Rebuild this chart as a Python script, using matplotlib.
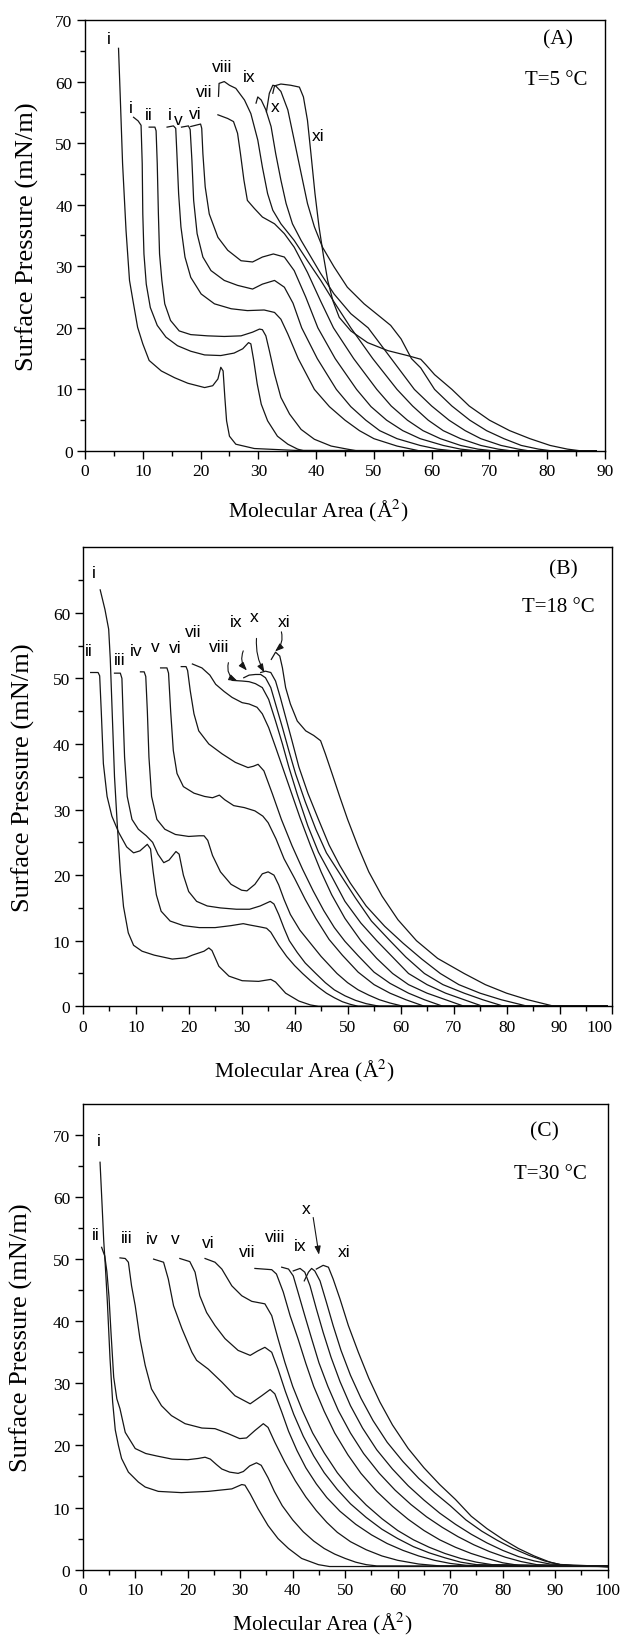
import numpy as np
import matplotlib.pyplot as plt

plt.rcParams['font.family'] = ['Liberation Serif', 'DejaVu Serif']
plt.rcParams['mathtext.fontset'] = 'stix'

# -----------------------------
# Panel A, T = 5 C  (area in A^2, surface pressure in mN/m)
# -----------------------------
a_i = [(5.8, 65.4), (6.1, 57.5), (6.5, 46.7), (7.1, 35.8), (7.7, 27.7), (8.3, 24.4), (9.1, 20.1),
       (10.0, 17.4), (11.1, 14.7), (13.2, 13.0), (15.5, 11.9), (17.8, 11.0), (20.7, 10.3), (22.1, 10.6),
       (23.0, 11.7), (23.5, 13.6), (23.9, 13.0), (24.2, 8.7), (24.5, 4.9), (25.0, 2.4), (26.1, 1.1),
       (29.3, 0.4), (36.2, 0.1), (88.5, 0.0)]
a_ii = [(8.4, 54.2), (9.2, 53.6), (9.7, 52.9), (9.9, 46.7), (10.0, 38.5), (10.2, 32.0), (10.6, 27.1),
        (11.3, 23.3), (12.5, 20.4), (14.0, 18.5), (16.0, 17.1), (18.3, 16.2), (20.7, 15.6), (23.5, 15.5),
        (25.8, 15.9), (27.3, 16.6), (28.3, 17.6), (28.7, 17.4), (29.2, 14.7), (29.8, 10.9), (30.5, 7.6),
        (31.6, 4.9), (33.3, 2.4), (35.1, 1.1), (36.8, 0.3), (38.0, 0.0), (88.5, 0.0)]
a_iii = [(11.1, 52.6), (12.1, 52.6), (12.3, 52.0), (12.5, 46.7), (12.7, 38.5), (12.9, 32.0), (13.3, 27.7),
         (13.8, 23.9), (14.8, 21.2), (16.3, 19.5), (18.3, 18.9), (21.2, 18.7), (24.1, 18.6), (27.0, 18.7),
         (29.0, 19.3), (30.2, 19.8), (30.7, 19.7), (31.3, 18.7), (31.9, 16.3), (32.8, 12.5), (33.9, 8.7),
         (35.4, 6.0), (37.4, 3.5), (39.7, 1.9), (42.6, 0.8), (45.4, 0.3), (47.2, 0.0), (88.5, 0.0)]
a_iv = [(14.2, 52.6), (15.3, 52.8), (15.7, 52.4), (15.9, 48.3), (16.2, 41.8), (16.6, 36.4), (17.3, 31.5),
        (18.3, 28.2), (20.1, 25.5), (22.4, 23.9), (25.3, 23.1), (28.1, 22.8), (31.0, 22.9), (32.8, 22.5),
        (33.9, 21.4), (35.1, 19.0), (36.9, 15.0), (39.7, 10.0), (42.3, 7.2), (45.0, 5.0), (47.5, 3.3),
        (50.0, 2.0), (54.0, 0.8), (58.0, 0.0), (88.5, 0.0)]
a_v = [(16.7, 52.6), (17.9, 52.8), (18.2, 52.2), (18.5, 47.2), (18.8, 40.7), (19.4, 35.3), (20.4, 31.5),
       (21.8, 29.3), (24.1, 27.7), (26.4, 26.9), (29.0, 26.3), (30.7, 27.1), (32.8, 27.7), (34.5, 26.6),
       (36.0, 24.0), (37.5, 20.0), (40.2, 15.0), (43.5, 10.0), (46.0, 7.2), (48.6, 5.0), (51.0, 3.3),
       (54.0, 2.0), (58.0, 0.9), (61.0, 0.3), (64.0, 0.0), (88.5, 0.0)]
a_vi = [(18.3, 52.7), (20.0, 53.1), (20.2, 52.4), (20.4, 48.3), (20.8, 42.9), (21.5, 38.5), (23.0, 34.7),
        (24.7, 32.6), (27.0, 30.9), (29.0, 30.7), (30.7, 31.5), (32.6, 32.0), (34.5, 31.5), (36.2, 29.3),
        (38.2, 25.0), (40.3, 20.0), (43.3, 15.0), (47.0, 10.0), (49.5, 7.2), (52.2, 5.0), (55.0, 3.3),
        (58.0, 2.0), (62.0, 0.9), (65.0, 0.3), (68.0, 0.0), (88.5, 0.0)]
a_vii = [(23.0, 54.6), (24.7, 54.0), (25.7, 53.5), (26.4, 51.6), (26.9, 48.3), (27.5, 44.0), (28.1, 40.7),
         (29.3, 39.4), (30.7, 38.0), (32.8, 36.9), (34.5, 35.3), (36.2, 33.1), (38.5, 29.0), (40.8, 24.3),
         (43.0, 20.0), (46.5, 15.0), (50.5, 10.0), (53.0, 7.3), (55.8, 5.0), (58.5, 3.3), (61.5, 2.0),
         (65.0, 0.9), (68.0, 0.3), (71.0, 0.0), (88.5, 0.0)]
a_viii = [(23.1, 57.6), (23.2, 59.7), (24.1, 60.0), (25.0, 59.4), (26.1, 58.9), (27.6, 57.0), (28.7, 54.8),
          (29.9, 50.5), (30.7, 46.1), (31.6, 41.8), (32.5, 39.1), (33.9, 36.9), (36.2, 34.2), (38.5, 30.9),
          (40.8, 27.7), (43.1, 24.2), (46.0, 20.0), (49.8, 15.0), (54.0, 10.0), (56.7, 7.3), (59.4, 5.0),
          (62.0, 3.3), (65.0, 2.0), (68.5, 0.9), (71.5, 0.3), (74.0, 0.0), (88.5, 0.0)]
a_ix = [(29.6, 56.5), (29.9, 57.5), (30.5, 57.0), (31.3, 55.4), (32.2, 52.7), (33.0, 48.3), (33.9, 44.0),
        (34.8, 40.2), (35.9, 36.9), (37.4, 34.2), (39.1, 31.5), (40.8, 28.8), (43.1, 25.5), (46.0, 22.3),
        (49.0, 20.0), (53.0, 15.0), (57.0, 10.0), (60.0, 7.3), (63.0, 5.0), (65.8, 3.3), (68.5, 2.0),
        (72.0, 0.9), (75.0, 0.3), (77.0, 0.0), (88.5, 0.0)]
a_x = [(31.4, 55.1), (31.9, 58.1), (32.5, 59.4), (33.0, 59.3), (33.9, 58.4), (35.1, 55.4), (36.2, 50.5),
       (37.4, 45.1), (38.5, 40.2), (39.7, 36.4), (41.1, 33.1), (43.1, 29.9), (45.4, 26.6), (48.3, 23.9),
       (51.2, 21.7), (52.9, 20.4), (54.7, 18.2), (56.5, 15.0), (58.1, 13.5), (60.5, 10.0), (63.5, 7.3),
       (66.6, 5.0), (69.5, 3.3), (72.5, 2.0), (75.5, 0.9), (78.5, 0.3), (81.0, 0.0), (88.5, 0.0)]
a_xi = [(32.5, 58.1), (32.8, 59.3), (33.9, 59.6), (35.6, 59.4), (37.1, 59.1), (37.8, 57.5), (38.5, 53.7),
        (39.1, 48.3), (39.8, 41.8), (40.5, 36.4), (41.3, 31.5), (42.0, 27.7), (42.9, 24.4), (44.0, 21.7),
        (46.0, 19.5), (48.9, 17.6), (52.4, 16.3), (55.8, 15.5), (58.1, 14.9), (59.0, 14.0), (60.5, 12.4),
        (63.5, 10.0), (66.5, 7.3), (70.0, 5.0), (73.5, 3.3), (77.0, 2.0), (80.5, 0.9), (83.5, 0.3),
        (86.0, 0.0), (88.5, 0.0)]

# -----------------------------
# Panel B, T = 18 C
# -----------------------------
b_i = [(3.3, 63.5), (4.2, 60.5), (4.9, 57.5), (5.2, 53.0), (5.6, 44.0), (6.0, 35.0), (6.5, 28.0),
       (7.1, 20.5), (7.7, 15.2), (8.6, 11.2), (9.6, 9.3), (11.2, 8.4), (13.5, 7.8), (16.9, 7.2),
       (19.5, 7.4), (20.7, 7.8), (22.9, 8.4), (23.8, 8.9), (24.4, 8.5), (25.7, 6.1), (27.6, 4.6),
       (30.1, 3.9), (33.2, 3.8), (35.5, 4.1), (36.4, 3.7), (38.3, 2.0), (40.8, 0.8), (43.0, 0.2),
       (44.5, 0.0), (99.0, 0.0)]
b_ii = [(1.5, 50.9), (2.9, 50.9), (3.2, 50.4), (3.5, 45.0), (3.9, 37.0), (4.6, 32.0), (5.5, 29.0),
        (6.8, 26.5), (8.3, 24.3), (9.6, 23.4), (10.8, 23.7), (12.2, 24.7), (12.8, 24.0), (13.3, 20.5),
        (13.9, 17.0), (14.8, 14.5), (16.5, 13.0), (19.0, 12.3), (22.0, 12.0), (25.0, 12.0), (28.0, 12.3),
        (30.3, 12.6), (31.5, 12.4), (33.5, 12.1), (34.7, 11.9), (35.5, 11.3), (37.0, 9.3), (38.5, 7.6),
        (40.0, 6.2), (41.5, 5.0), (43.0, 3.9), (44.5, 2.9), (46.0, 2.0), (47.5, 1.3), (49.0, 0.7),
        (50.5, 0.3), (52.0, 0.0), (99.0, 0.0)]
b_iii = [(6.0, 50.8), (7.1, 50.8), (7.4, 50.0), (7.6, 45.0), (7.9, 38.0), (8.4, 32.0), (9.3, 28.5),
         (10.5, 27.0), (12.0, 26.0), (13.2, 25.0), (14.2, 23.2), (15.3, 21.9), (16.3, 22.3), (17.6, 23.6),
         (18.2, 23.2), (19.0, 20.0), (20.0, 17.5), (21.5, 16.0), (23.5, 15.3), (26.0, 15.0), (29.0, 14.8),
         (31.5, 14.8), (33.5, 15.3), (35.4, 16.0), (36.1, 15.6), (37.0, 14.0), (38.0, 11.9), (39.0, 10.0),
         (40.5, 8.2), (42.0, 6.6), (44.0, 5.0), (45.8, 3.6), (47.5, 2.5), (49.5, 1.6), (51.5, 0.9),
         (53.5, 0.4), (56.0, 0.0), (99.0, 0.0)]
b_iv = [(10.9, 51.0), (11.6, 51.0), (11.9, 50.3), (12.2, 45.0), (12.5, 38.0), (13.0, 32.0), (14.0, 28.5),
        (15.5, 27.0), (17.5, 26.2), (20.0, 25.9), (22.0, 26.0), (22.9, 26.0), (23.6, 25.3), (24.5, 23.0),
        (26.0, 20.5), (28.0, 18.6), (30.0, 17.7), (31.0, 17.6), (32.5, 18.6), (33.9, 20.2), (35.0, 20.5),
        (36.1, 20.0), (37.0, 18.5), (38.0, 16.3), (39.2, 14.0), (41.0, 11.6), (43.0, 9.6), (45.0, 7.6),
        (48.0, 5.0), (50.0, 3.6), (52.0, 2.5), (54.0, 1.7), (56.0, 1.0), (58.0, 0.5), (60.5, 0.0),
        (99.0, 0.0)]
b_v = [(14.7, 51.6), (15.9, 51.6), (16.2, 50.8), (16.6, 45.0), (17.1, 39.0), (17.8, 35.5), (19.0, 33.5),
       (21.0, 32.5), (23.0, 32.0), (24.5, 31.8), (25.8, 32.2), (26.8, 31.5), (28.5, 30.6), (30.5, 30.3),
       (32.5, 29.8), (34.0, 29.0), (35.0, 28.0), (36.5, 25.5), (38.0, 22.5), (40.0, 19.5), (42.0, 16.3),
       (44.0, 13.4), (46.5, 10.2), (49.0, 7.8), (52.0, 5.2), (55.0, 3.3), (58.0, 2.0), (61.0, 1.0),
       (64.5, 0.0), (99.0, 0.0)]
b_vi = [(18.6, 51.8), (19.5, 51.8), (19.8, 51.2), (20.3, 48.1), (21.0, 44.6), (21.9, 42.0), (23.8, 40.0),
        (26.3, 38.5), (28.8, 37.2), (31.2, 36.4), (32.2, 36.6), (33.1, 36.9), (34.2, 35.9), (35.8, 32.4),
        (37.5, 28.5), (39.5, 24.5), (41.5, 20.9), (43.5, 17.6), (45.5, 14.6), (47.5, 12.0), (49.5, 9.9),
        (52.0, 7.7), (55.0, 5.2), (58.0, 3.5), (61.5, 2.0), (64.5, 1.0), (68.0, 0.0), (99.0, 0.0)]
b_vii = [(20.7, 52.2), (22.5, 51.6), (24.0, 50.5), (25.1, 49.1), (26.7, 48.0), (28.2, 47.1), (30.1, 46.3),
         (31.4, 46.1), (32.9, 45.6), (33.9, 44.6), (35.1, 42.5), (36.5, 39.3), (38.0, 35.8), (39.5, 32.3),
         (41.0, 28.8), (43.0, 24.5), (45.0, 20.5), (47.0, 17.0), (49.5, 13.4), (52.5, 10.0), (55.5, 7.3),
         (58.5, 5.0), (61.5, 3.3), (65.0, 2.0), (68.5, 1.0), (72.0, 0.0), (99.0, 0.0)]
b_viii = [(28.2, 49.7), (30.1, 49.6), (31.4, 49.5), (32.6, 49.2), (33.9, 48.6), (35.1, 46.8), (36.4, 43.5),
          (37.7, 40.0), (38.9, 36.5), (40.5, 32.3), (42.5, 27.5), (44.5, 23.5), (47.0, 19.8), (49.5, 16.0),
          (52.5, 12.7), (55.5, 10.0), (58.5, 7.5), (61.5, 5.0), (65.0, 3.3), (68.5, 2.0), (72.0, 1.0),
          (75.5, 0.0), (99.0, 0.0)]
b_ix = [(30.4, 50.1), (31.4, 50.5), (32.6, 50.6), (33.6, 50.6), (34.5, 50.1), (35.5, 48.6), (36.4, 46.1),
        (37.7, 42.5), (38.9, 39.0), (40.2, 35.4), (42.0, 31.2), (44.0, 27.0), (46.0, 23.4), (48.7, 20.0),
        (51.5, 16.5), (54.5, 13.0), (58.0, 10.0), (61.0, 7.5), (64.5, 5.0), (68.0, 3.3), (72.0, 2.0),
        (75.5, 1.0), (79.5, 0.0), (99.0, 0.0)]
b_x = [(33.6, 50.9), (34.5, 51.1), (35.5, 50.9), (36.4, 49.6), (37.3, 47.1), (38.3, 44.1), (39.5, 40.5),
       (40.8, 36.5), (42.5, 32.5), (44.5, 28.5), (46.5, 24.6), (48.5, 21.5), (50.5, 18.8), (53.5, 15.3),
       (57.0, 12.2), (60.5, 9.6), (64.0, 7.2), (67.5, 5.0), (71.0, 3.3), (75.0, 2.0), (79.0, 1.0),
       (84.0, 0.0), (99.0, 0.0)]
b_xi = [(35.6, 52.9), (36.4, 54.0), (37.2, 53.4), (37.7, 51.6), (38.3, 48.6), (39.2, 46.1), (40.5, 43.5),
        (42.1, 42.0), (43.6, 41.3), (44.9, 40.5), (45.8, 38.5), (47.1, 35.4), (48.5, 32.0), (50.0, 28.5),
        (52.0, 24.3), (54.0, 20.5), (56.5, 16.8), (59.5, 13.2), (63.0, 10.0), (67.0, 7.3), (72.0, 5.0),
        (76.0, 3.3), (80.0, 2.0), (84.0, 1.0), (86.5, 0.5), (89.0, 0.0), (99.0, 0.0)]

# -----------------------------
# Panel C, T = 30 C
# -----------------------------
c_i = [(3.3, 65.6), (3.7, 58.5), (4.0, 53.0), (4.3, 49.0), (4.7, 43.0), (5.2, 34.0), (5.7, 27.0),
       (6.2, 22.5), (6.8, 20.0), (7.4, 17.9), (8.7, 15.7), (10.6, 14.1), (11.9, 13.3), (14.4, 12.6),
       (18.8, 12.4), (23.9, 12.6), (28.4, 13.0), (30.3, 13.7), (30.9, 13.6), (31.9, 12.2), (33.4, 9.8),
       (35.3, 7.1), (37.2, 5.0), (39.2, 3.4), (41.7, 1.8), (44.9, 0.8), (47.0, 0.5), (100.0, 0.5)]
c_ii = [(3.6, 51.9), (4.2, 50.5), (4.6, 48.0), (5.0, 44.0), (5.4, 38.0), (5.9, 31.0), (6.5, 27.5),
        (7.1, 25.9), (8.1, 22.1), (10.0, 19.5), (12.0, 18.7), (14.1, 18.3), (17.0, 17.8), (20.0, 17.7),
        (22.0, 17.9), (23.3, 18.1), (24.3, 17.8), (25.5, 16.9), (26.5, 16.2), (28.0, 15.7), (29.6, 15.5),
        (30.6, 15.8), (31.8, 16.7), (33.1, 17.2), (34.0, 16.8), (35.3, 14.8), (36.5, 12.6), (38.0, 10.3),
        (40.0, 8.0), (42.0, 6.1), (44.0, 4.6), (46.0, 3.4), (48.0, 2.5), (50.0, 1.8), (52.0, 1.2),
        (54.0, 0.8), (56.0, 0.6), (100.0, 0.6)]
c_iii = [(7.1, 50.2), (8.1, 50.1), (8.7, 49.5), (9.3, 45.7), (10.0, 42.5), (10.9, 37.2), (11.9, 32.9),
         (13.1, 29.1), (15.0, 26.4), (16.9, 24.8), (19.5, 23.5), (22.7, 22.8), (25.2, 22.7), (27.7, 21.9),
         (29.9, 21.1), (31.2, 21.2), (32.8, 22.4), (34.4, 23.5), (35.3, 22.9), (36.6, 20.5), (38.5, 17.3),
         (40.5, 14.3), (42.5, 11.7), (44.5, 9.5), (46.5, 7.6), (48.5, 6.0), (51.0, 4.5), (54.0, 3.2),
         (57.0, 2.2), (60.0, 1.5), (64.0, 0.9), (68.0, 0.6), (100.0, 0.6)]
c_iv = [(13.5, 50.0), (15.4, 49.5), (16.3, 46.8), (17.3, 42.5), (18.9, 38.8), (20.8, 35.0), (21.7, 33.7),
        (23.9, 32.3), (26.5, 30.2), (29.0, 28.0), (31.9, 26.7), (34.1, 28.0), (35.7, 29.0), (36.6, 28.3),
        (37.9, 25.4), (39.2, 22.3), (40.8, 19.2), (42.5, 16.4), (44.5, 13.8), (46.5, 11.6), (49.0, 9.4),
        (52.0, 7.3), (55.0, 5.6), (58.0, 4.2), (61.0, 3.1), (64.0, 2.2), (67.0, 1.5), (70.0, 1.0),
        (73.0, 0.7), (100.0, 0.5)]
c_v = [(18.5, 50.1), (20.4, 49.6), (21.4, 47.9), (22.3, 44.1), (23.6, 41.4), (25.2, 39.3), (27.1, 37.2),
       (29.6, 35.3), (31.9, 34.5), (33.3, 35.2), (34.7, 35.8), (36.0, 35.0), (37.2, 32.3), (38.6, 28.7),
       (40.2, 25.0), (42.0, 21.5), (44.0, 18.3), (46.0, 15.6), (48.5, 12.9), (51.0, 10.6), (54.0, 8.4),
       (57.0, 6.5), (60.0, 5.0), (63.0, 3.7), (66.0, 2.7), (69.0, 1.9), (72.0, 1.2), (75.0, 0.8),
       (100.0, 0.5)]
c_vi = [(23.3, 50.1), (25.2, 49.5), (26.5, 48.4), (28.4, 45.7), (30.3, 44.1), (32.2, 43.2), (34.7, 42.8),
        (36.0, 40.9), (37.2, 37.2), (38.5, 33.4), (40.0, 29.5), (41.8, 25.7), (43.8, 22.0), (46.0, 18.8),
        (48.5, 15.6), (51.0, 13.0), (54.0, 10.4), (57.0, 8.2), (60.0, 6.3), (63.0, 4.8), (66.0, 3.6),
        (69.0, 2.6), (72.0, 1.8), (75.0, 1.2), (78.0, 0.8), (100.0, 0.5)]
c_vii = [(32.8, 48.5), (36.0, 48.3), (36.9, 47.6), (38.2, 44.7), (39.5, 40.9), (41.0, 37.2), (42.5, 33.2),
         (44.0, 29.5), (46.0, 25.5), (48.0, 22.0), (50.5, 18.5), (53.0, 15.5), (56.0, 12.6), (59.0, 10.2),
         (62.0, 8.1), (65.0, 6.3), (68.0, 4.8), (71.0, 3.6), (74.0, 2.6), (77.0, 1.8), (80.0, 1.1),
         (83.0, 0.7), (100.0, 0.5)]
c_viii = [(37.9, 48.7), (39.2, 48.4), (40.1, 47.3), (41.0, 44.7), (42.3, 40.9), (43.6, 37.2), (45.0, 33.3),
          (46.7, 29.5), (48.7, 25.6), (51.0, 22.0), (53.5, 18.7), (56.5, 15.5), (59.5, 12.8), (62.5, 10.5),
          (65.5, 8.5), (68.5, 6.8), (71.5, 5.3), (74.5, 4.0), (77.5, 2.9), (80.5, 2.0), (83.5, 1.3),
          (86.5, 0.8), (100.0, 0.5)]
c_ix = [(40.1, 48.1), (41.4, 48.5), (42.3, 47.9), (43.3, 45.7), (44.5, 42.0), (45.8, 38.2), (47.3, 34.2),
        (49.0, 30.3), (51.0, 26.4), (53.3, 22.8), (56.0, 19.3), (59.0, 16.2), (62.0, 13.5), (65.0, 11.2),
        (68.0, 9.1), (71.0, 7.3), (74.0, 5.7), (77.0, 4.3), (80.0, 3.1), (83.0, 2.1), (86.0, 1.4),
        (89.0, 0.9), (100.0, 0.5)]
c_x = [(42.2, 46.5), (43.0, 47.9), (43.6, 48.5), (44.2, 48.1), (45.2, 46.5), (46.4, 43.1), (47.7, 39.3),
       (49.2, 35.3), (51.0, 31.3), (53.0, 27.6), (55.3, 24.0), (58.0, 20.5), (61.0, 17.4), (64.0, 14.7),
       (67.0, 12.4), (70.0, 10.3), (73.0, 8.0), (76.0, 6.2), (79.0, 4.7), (82.0, 3.4), (85.0, 2.3),
       (88.0, 1.4), (91.0, 0.8), (94.0, 0.6), (100.0, 0.5)]
c_xi = [(44.5, 48.4), (45.8, 49.0), (46.8, 48.7), (47.7, 46.8), (49.0, 43.6), (50.6, 39.3), (52.5, 35.0),
        (54.5, 30.8), (56.6, 27.0), (59.0, 23.3), (62.0, 19.5), (65.0, 16.4), (68.0, 13.7), (71.0, 11.3),
        (74.0, 8.6), (77.0, 6.6), (80.0, 4.9), (83.0, 3.4), (86.0, 2.2), (89.0, 1.2), (91.5, 0.7),
        (94.0, 0.6), (100.0, 0.5)]

a_curves = [a_i, a_ii, a_iii, a_iv, a_v, a_vi, a_vii, a_viii, a_ix, a_x, a_xi]
b_curves = [b_i, b_ii, b_iii, b_iv, b_v, b_vi, b_vii, b_viii, b_ix, b_x, b_xi]
c_curves = [c_i, c_ii, c_iii, c_iv, c_v, c_vi, c_vii, c_viii, c_ix, c_x, c_xi]

# -----------------------------
# figure
# -----------------------------
fig = plt.figure(figsize=(6.21, 16.40), dpi=100)
ax_a = fig.add_axes([0.1369, 0.7244, 0.8374, 0.2628])
ax_b = fig.add_axes([0.1332, 0.3858, 0.8531, 0.2799])
ax_c = fig.add_axes([0.1332, 0.0423, 0.8454, 0.2840])

line_kw = dict(color="#151515", lw=0.9)
lab_kw = dict(family=['Liberation Sans', 'DejaVu Sans'], fontsize=12.5, ha='center', va='center')


def draw_curves(ax, curves):
    for c in curves:
        arr = np.array(c)
        ax.plot(arr[:, 0], arr[:, 1], **line_kw)


def style(ax, xmax, ymax, ymajor_max, ymajor_lim_minor, xlab_pos, ylab_x):
    ax.set_xlim(0, xmax)
    ax.set_ylim(0, ymax)
    ax.set_xticks(np.arange(0, xmax + 1, 10))
    ax.set_xticks(np.arange(5, xmax, 10), minor=True)
    ax.set_yticks(np.arange(0, ymajor_max + 1, 10))
    ax.set_yticks(np.arange(5, ymajor_lim_minor, 10), minor=True)
    ax.tick_params(which='major', direction='out', length=6, width=1.0, labelsize=12.5, pad=3)
    ax.tick_params(which='minor', direction='out', length=3.5, width=1.0)
    for s in ax.spines.values():
        s.set_linewidth(1.0)
    ax.set_xlabel("Molecular Area (Å$^2$)", fontsize=15.5)
    ax.set_ylabel("Surface Pressure (mN/m)", fontsize=19)
    ax.xaxis.set_label_coords(xlab_pos[0], xlab_pos[1])
    ax.yaxis.set_label_coords(ylab_x, 0.5)


def arrow(ax, start, tip, rad):
    ax.annotate('', xy=tip, xytext=start,
                arrowprops=dict(arrowstyle='-|>,head_length=0.5,head_width=0.18', color='#151515',
                                lw=0.8, shrinkA=0, shrinkB=0, mutation_scale=10,
                                connectionstyle=f'arc3,rad={rad}'))


# ---- (A)
draw_curves(ax_a, a_curves)
style(ax_a, 90, 70, 70, 70, (0.448, -0.107), -0.088)
for t, x, y in [("i", 4.2, 67.0), ("i", 8.0, 55.8), ("ii", 11.0, 54.6), ("i", 14.6, 54.6), ("v", 16.2, 53.9),
                ("vi", 19.1, 54.8), ("vii", 20.6, 58.4), ("viii", 23.8, 62.4), ("ix", 28.4, 60.8),
                ("x", 32.9, 55.9), ("xi", 40.4, 51.3)]:
    ax_a.text(x, y, t, **lab_kw)
ax_a.text(0.91, 0.956, "(A)", transform=ax_a.transAxes, fontsize=15.5, ha='center', va='center')
ax_a.text(0.906, 0.863, "T=5 °C", transform=ax_a.transAxes, fontsize=15, ha='center', va='center')

# ---- (B)
draw_curves(ax_b, b_curves)
style(ax_b, 100, 70, 60, 70, (0.418, -0.110), -0.090)
for t, x, y in [("i", 2.1, 66.1), ("ii", 1.1, 54.2), ("iii", 6.9, 52.9), ("iv", 10.1, 54.2), ("v", 13.7, 54.8),
                ("vi", 17.4, 54.7), ("vii", 20.8, 57.2), ("viii", 25.8, 54.9), ("ix", 29.0, 58.7),
                ("x", 32.3, 59.5), ("xi", 38.0, 58.7)]:
    ax_b.text(x, y, t, **lab_kw)
arrow(ax_b, (27.5, 52.4), (29.2, 49.6), 0.4)
arrow(ax_b, (30.3, 54.2), (31.0, 51.2), 0.3)
arrow(ax_b, (32.8, 56.1), (34.3, 50.9), 0.15)
arrow(ax_b, (37.5, 57.1), (36.3, 54.1), -0.3)
ax_b.text(0.907, 0.953, "(B)", transform=ax_b.transAxes, fontsize=15.5, ha='center', va='center')
ax_b.text(0.897, 0.870, "T=18 °C", transform=ax_b.transAxes, fontsize=15, ha='center', va='center')
# the "100" label would run past the figure edge, pull it inside
ax_b.xaxis.get_major_ticks()[-1].label1.set_horizontalalignment('right')

# ---- (C)
draw_curves(ax_c, c_curves)
style(ax_c, 100, 75, 70, 75, (0.457, -0.086), -0.095)
for t, x, y in [("i", 3.0, 69.1), ("ii", 2.5, 54.0), ("iii", 8.4, 53.5), ("iv", 13.3, 53.4), ("v", 17.6, 53.4),
                ("vi", 23.9, 52.7), ("vii", 31.3, 51.2), ("viii", 36.6, 53.7), ("ix", 41.4, 52.2),
                ("x", 42.6, 58.1), ("xi", 49.8, 51.2)]:
    ax_c.text(x, y, t, **lab_kw)
arrow(ax_c, (43.9, 56.7), (45.0, 50.7), 0.0)
ax_c.text(0.879, 0.942, "(C)", transform=ax_c.transAxes, fontsize=15.5, ha='center', va='center')
ax_c.text(0.89, 0.85, "T=30 °C", transform=ax_c.transAxes, fontsize=15, ha='center', va='center')

fig.savefig("out.png", dpi=100)
